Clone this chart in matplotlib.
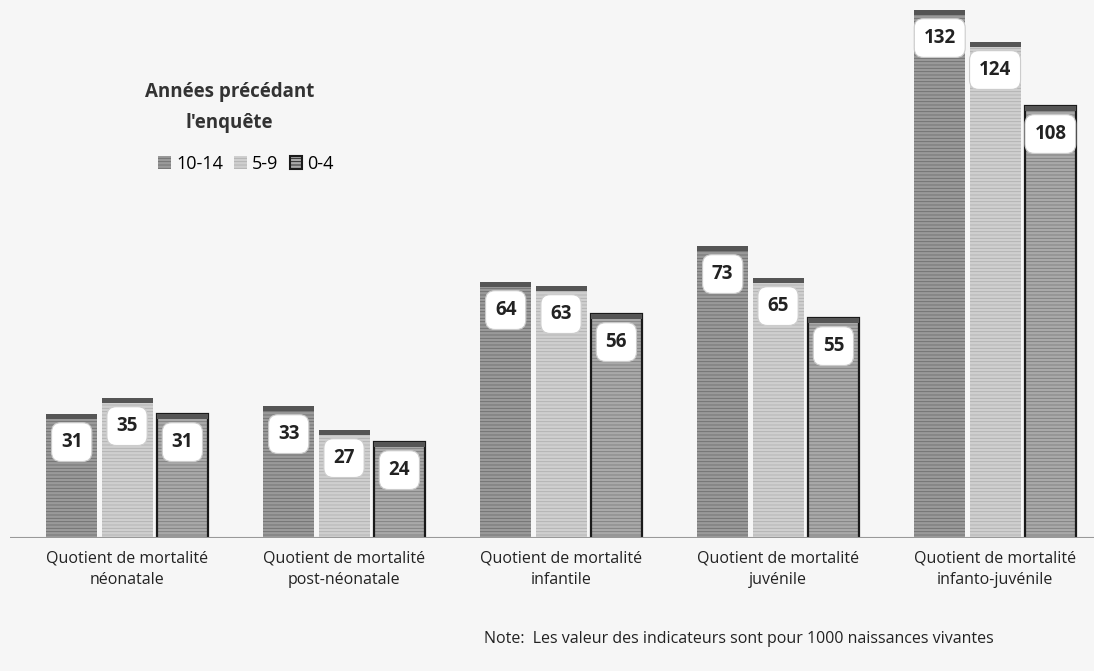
import matplotlib.pyplot as plt
import numpy as np

categories = ["Quotient de mortalité\nnéonatale",
              "Quotient de mortalité\npost-néonatale",
              "Quotient de mortalité\ninfantile",
              "Quotient de mortalité\njuvénile",
              "Quotient de mortalité\ninfanto-juvénile"]
series_names = ["10-14", "5-9", "0-4"]
v_10_14 = [31, 33, 64, 73, 132]
v_5_9 = [35, 27, 63, 65, 124]
v_0_4 = [31, 24, 56, 55, 108]

plt.rcParams['font.family'] = ['Open Sans', 'DejaVu Sans']
plt.rcParams['hatch.linewidth'] = 0.6

fig = plt.figure(figsize=(10.94, 6.71), dpi=100)
fig.patch.set_facecolor('#f6f6f6')
ax = fig.add_axes([0.009, 0.198, 0.991, 0.799])
ax.set_facecolor('#f6f6f6')

x = np.arange(len(categories))
w = 0.235
offs = [-0.255, 0, 0.255]
faces = ['#9a9a9a', '#cfcfcf', '#a9a9a9']
hatchcols = ['#6e6e6e', '#b0b0b0', '#7c7c7c']
edges = ['#9a9a9a', '#cfcfcf', '#1a1a1a']
lws = [0, 0, 1.6]

for vals, off, fc, hc, ec, lw, name in zip([v_10_14, v_5_9, v_0_4], offs, faces, hatchcols, edges, lws, series_names):
    bars = ax.bar(x + off, vals, w, color=fc, label=name, zorder=2)
    for b in bars:
        b.set_hatch('-----')
        b.set_edgecolor(hc)
        b.set_linewidth(0)
    # contour noir pour la série 0-4
    if lw > 0:
        ax.bar(x + off, vals, w, facecolor='none', edgecolor=ec, linewidth=lw, zorder=3)
    # bande sombre en haut des barres
    ax.bar(x + off, [1.2] * len(vals), w, bottom=np.array(vals) - 1.2, color='#555555', zorder=3)
    for xi, v in zip(x + off, vals):
        ax.text(xi, v - 7.0, str(v), ha='center', va='center', fontsize=13.5, fontweight='bold',
                color='#222222', zorder=4,
                bbox=dict(boxstyle='round,pad=0.5,rounding_size=0.5', fc='white', ec='#cccccc', lw=0.8))

ax.set_xlim(-0.54, 4.456)
ax.set_ylim(0, 134)
ax.axhline(0, color='#999999', lw=1.5, zorder=5)
for s in ax.spines.values():
    s.set_visible(False)
ax.set_yticks([])
ax.set_xticks(x)
ax.set_xticklabels(categories, fontsize=11.5, color='#222222', linespacing=1.45)
ax.tick_params(axis='x', length=0, pad=9)

fig.text(0.21, 0.84, "Années précédant\nl'enquête", ha='center', va='center', fontsize=13.5,
         fontweight='bold', color='#333333', linespacing=1.7)
leg = ax.legend(loc='upper left', bbox_to_anchor=(0.122, 0.745), ncol=3, frameon=False, fontsize=13,
                handlelength=0.7, handleheight=0.7, handletextpad=0.3, columnspacing=0.6)
leg.legend_handles[2].set_edgecolor('#1a1a1a')
leg.legend_handles[2].set_linewidth(1.5)

fig.text(0.675, 0.048, "Note:  Les valeur des indicateurs sont pour 1000 naissances vivantes",
         ha='center', va='center', fontsize=11.5, color='#222222')

fig.savefig('out.png', dpi=100, facecolor=fig.get_facecolor())
